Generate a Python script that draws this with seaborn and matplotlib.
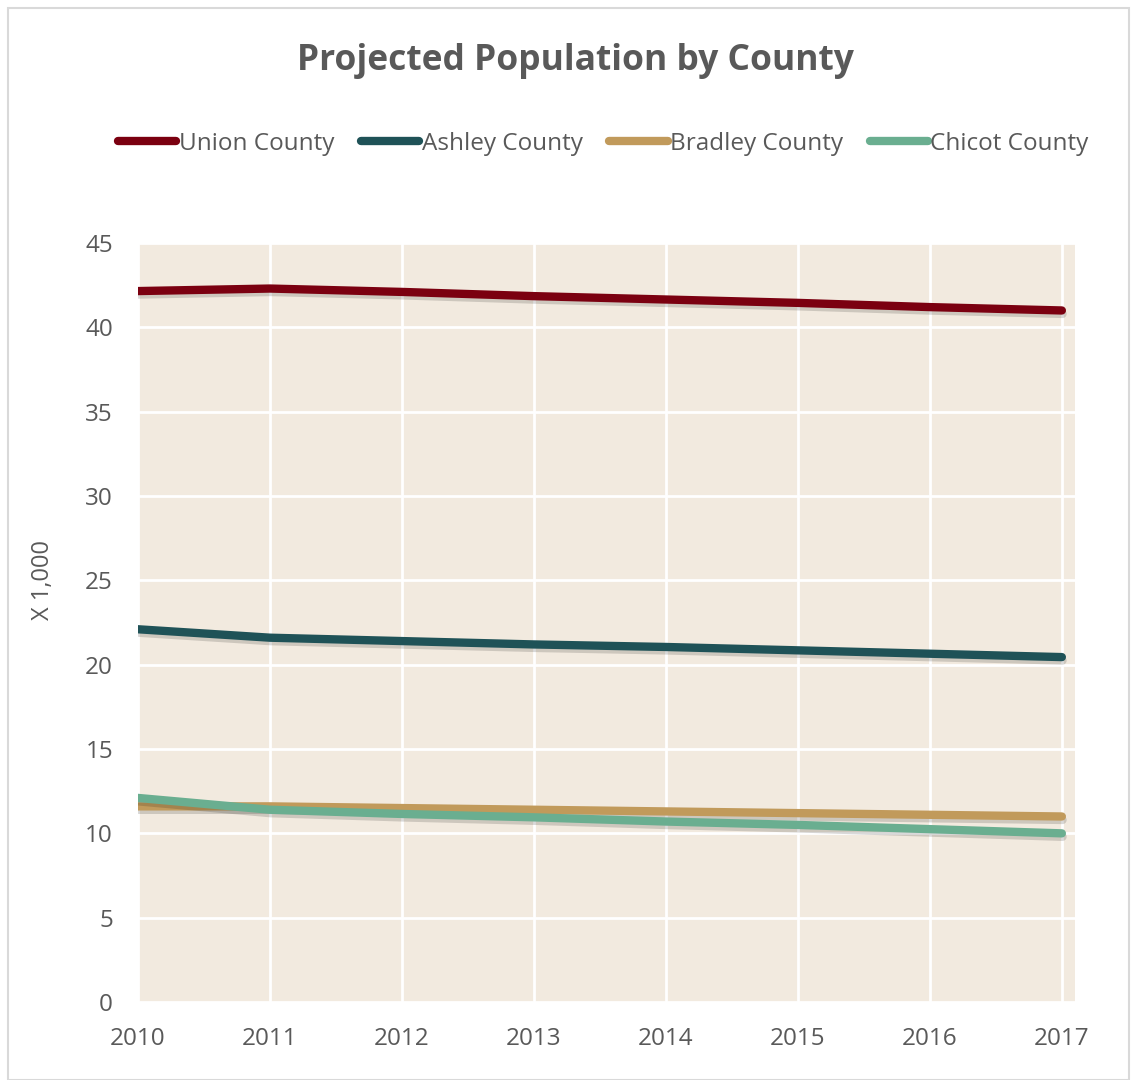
import matplotlib
matplotlib.use("Agg")
import matplotlib.pyplot as plt
import matplotlib.patheffects as pe
import seaborn as sns
import pandas as pd

# Datos (miles de habitantes)
years = [2010, 2011, 2012, 2013, 2014, 2015, 2016, 2017]
union = [42.15, 42.3, 42.1, 41.85, 41.65, 41.45, 41.2, 41.0]
ashley = [22.1, 21.6, 21.4, 21.2, 21.05, 20.85, 20.65, 20.45]
bradley = [11.6, 11.6, 11.5, 11.4, 11.3, 11.2, 11.1, 11.0]
chicot = [12.1, 11.4, 11.15, 10.95, 10.7, 10.5, 10.25, 10.0]

counties = ["Union County", "Ashley County", "Bradley County", "Chicot County"]
colores = ["#7B0010", "#1F5257", "#C19A5B", "#6AAE90"]

df = pd.DataFrame({"Year": years, "Union County": union, "Ashley County": ashley,
                   "Bradley County": bradley, "Chicot County": chicot})
df_long = df.melt(id_vars="Year", var_name="County", value_name="Pop")

sns.set_theme(style="whitegrid")
plt.rcParams["font.family"] = ["Open Sans", "DejaVu Sans"]
texto = "#595959"

fig = plt.figure(figsize=(11.32, 10.8), dpi=100)
ax = fig.add_axes([0.1219, 0.0722, 0.8278, 0.7028])
ax.set_facecolor("#F2EADF")

sns.lineplot(data=df_long, x="Year", y="Pop", hue="County", hue_order=counties,
             palette=colores, linewidth=6, ax=ax, legend=False)
for ln in ax.get_lines():
    ln.set_solid_capstyle("round")
    ln.set_path_effects([pe.SimpleLineShadow(offset=(0.5, -2.5), alpha=0.15, shadow_color="black"),
                         pe.Normal()])

ax.set_xlim(2010, 2017.1)
ax.set_ylim(0, 45)
ax.set_xticks(years)
ax.set_yticks(range(0, 46, 5))
ax.grid(True, color="white", linewidth=2)
for s in ax.spines.values():
    s.set_visible(False)
ax.tick_params(axis="both", labelsize=17.5, colors=texto, length=0)
ax.tick_params(axis="x", pad=18)
ax.tick_params(axis="y", pad=18)
ax.set_xlabel("")
ax.set_ylabel("X 1,000", fontsize=17, color=texto)
ax.yaxis.set_label_coords(-0.0886, 0.556)

# Leyenda
handles = [plt.Line2D([0], [0], color=c, lw=6, solid_capstyle="round") for c in colores]
fig.legend(handles, counties, loc="center", bbox_to_anchor=(0.533, 0.867), ncol=4,
           frameon=False, fontsize=17.5, labelcolor=texto, handlelength=2.4,
           handletextpad=0.1, columnspacing=1.1)

fig.suptitle("Projected Population by County", x=0.508, y=0.96, fontsize=25.5,
             fontweight="bold", color=texto)

# Borde del gráfico
fig.patches.append(plt.Rectangle((0.007, 0.0), 0.99, 0.9925, transform=fig.transFigure,
                                 fill=False, edgecolor="#D9D9D9", linewidth=1.5))

fig.savefig("out.png", dpi=100)
